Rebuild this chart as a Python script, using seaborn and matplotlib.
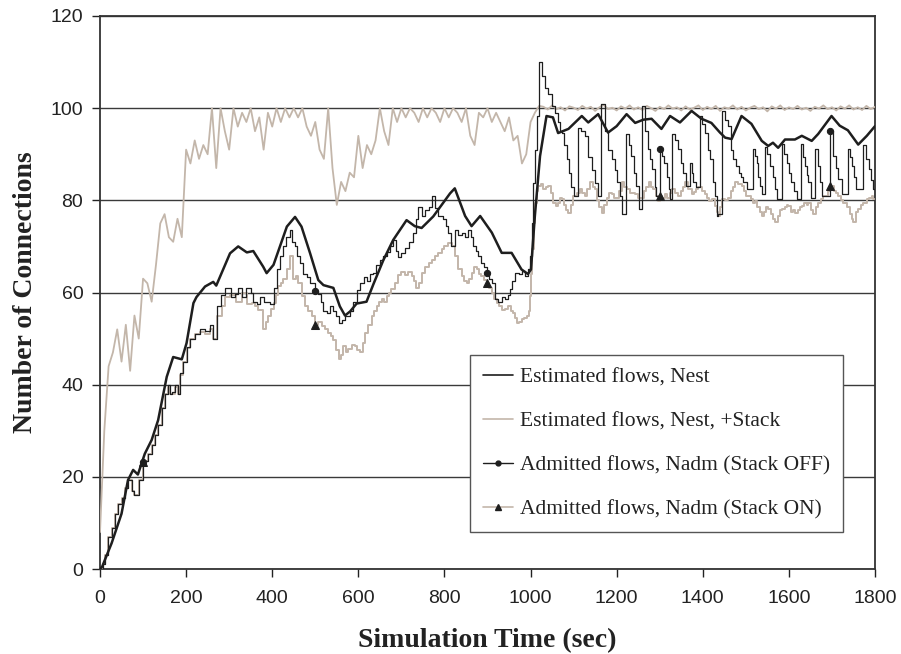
import numpy as np
import pandas as pd
import seaborn as sns
import matplotlib
matplotlib.use("Agg")
import matplotlib.pyplot as plt
from matplotlib.lines import Line2D

# ---------------- data ----------------
# Estimated flows, Nest (Stack OFF) - smooth black
nest_t = [0, 5, 27, 50, 65, 77, 88, 104, 120, 135, 155, 170, 190, 201, 217, 224, 244, 263, 270,
          302, 321, 341, 356, 379, 387, 403, 434, 453, 468, 488, 507, 519, 542, 557, 569, 581,
          596, 619, 635, 658, 681, 712, 731, 747, 774, 813, 824, 848, 863, 883, 910, 933, 956,
          979, 994, 1001, 1010, 1022, 1037, 1052, 1064, 1088, 1119, 1134, 1157, 1180, 1200,
          1223, 1243, 1262, 1281, 1304, 1324, 1347, 1374, 1397, 1420, 1440, 1452, 1467, 1490,
          1513, 1537, 1552, 1563, 1575, 1591, 1614, 1630, 1653, 1668, 1699, 1718, 1737, 1761,
          1781, 1800]
nest_v = [0, 0.5, 5.6, 12, 19.3, 21.5, 20.5, 25, 28, 32.3, 41.7, 46, 45.5, 49, 57.7, 59, 61.3,
          62.3, 61.5, 68.5, 70, 68.7, 69, 65.6, 64.2, 66, 74.3, 76.4, 74.3, 68.5, 62.7, 61.6, 61,
          57, 55, 55.9, 57.6, 58, 61.8, 67, 71.4, 75.7, 74.4, 74, 76.5, 81.5, 82.6, 76.6, 74.4,
          76.6, 73, 68.6, 68.6, 65, 64, 65, 76.6, 89.6, 98.3, 98, 94.6, 95.5, 98.3, 96.9, 98.7,
          94.7, 96.1, 98.7, 96.8, 97.5, 97.7, 95.5, 98.3, 96.9, 99.4, 97.7, 96.8, 94.7, 93.6,
          93.3, 98.3, 96.6, 92.9, 91.8, 92.5, 91.4, 93.2, 93.2, 94, 92.9, 94.4, 98.3, 96.2, 95.2,
          92.1, 94, 96.1]

# Estimated flows, Nest, +Stack - noisy grey, every 10 s
stack_t = list(range(0, 1801, 10))
stack_v = [8, 30, 44, 47, 52, 45, 53, 43, 55, 50, 63, 62, 58, 66, 75, 77, 72, 71, 76, 72,
           91, 88, 93, 89, 92, 90, 100, 87, 100, 95, 91, 100, 96, 99, 97, 100, 95, 98, 91, 99,
           96, 100, 97, 100, 98, 100, 98, 100, 96, 94, 97, 91, 89, 100, 87, 79, 84, 82, 86, 85,
           94, 87, 92, 90, 93, 100, 95, 92, 100, 97, 100, 98, 100, 99, 97, 100, 98, 100, 99, 97,
           100, 98, 100, 99, 97, 100, 94, 92, 99, 98, 100, 97, 99, 97, 95, 98, 93, 94, 88, 90,
           97, 99, 100.5, 100.3, 99.7, 100.6, 99.8, 100.2, 99.5, 100.4, 100.1, 99.6, 100.5, 99.9,
           100.3, 99.4, 100.2, 100.7, 99.8, 100.1, 99.5, 100.4, 99.9, 100.6, 99.7, 100.2, 99.6,
           100.5, 100.0, 99.4, 100.3, 99.8, 100.6, 99.9, 100.2, 99.5, 100.4, 99.7, 100.1, 100.6,
           99.6, 100.3, 99.8, 100.5, 99.4, 100.2, 99.9, 100.6, 99.7, 100.3, 99.5, 100.1, 100.5,
           99.8, 100.2, 99.3, 100.4, 99.9, 100.6, 99.6, 100.2, 99.8, 100.5, 99.7, 100.1, 99.4,
           100.3, 99.9, 100.6, 99.8, 100.2, 99.5, 100.4, 99.9, 100.6, 99.7, 100.2, 99.6, 100.5,
           99.8, 100.3]

# Admitted flows, Nadm (Stack OFF) - black steps
off_t = [0, 8, 12, 19, 27, 34, 42, 50, 58, 65, 74, 80, 88, 91, 100, 104, 112, 120, 128, 135,
         143, 151, 158, 162, 168, 174, 180, 186, 193, 201, 210, 221, 232, 244, 256, 263, 271,
         282, 290, 297, 305, 313, 320, 330, 340, 350, 356, 364, 372, 380, 387, 395, 403, 410,
         417, 425, 433, 441, 447, 453, 458, 464, 472, 480, 488, 495, 500, 507, 513, 519, 527,
         535, 542, 548, 554, 561, 570, 580, 588, 596, 604, 612, 620, 628, 635, 642, 650, 658,
         666, 673, 681, 688, 693, 700, 709, 718, 727, 733, 739, 747, 755, 763, 770, 778, 786,
         797, 803, 809, 816, 824, 832, 840, 848, 855, 862, 867, 873, 878, 886, 892, 898, 904,
         910, 917, 925, 933, 941, 948, 952, 958, 964, 972, 979, 987, 995, 999, 1003, 1006, 1010,
         1014, 1019, 1026, 1034, 1041, 1049, 1057, 1063, 1068, 1072, 1078, 1084, 1090, 1095,
         1100, 1108, 1111, 1118, 1126, 1134, 1142, 1150, 1157, 1164, 1172, 1180, 1188, 1195,
         1200, 1207, 1212, 1215, 1221, 1228, 1234, 1240, 1246, 1252, 1258, 1265, 1272, 1278,
         1283, 1288, 1291, 1300, 1305, 1310, 1316, 1321, 1325, 1329, 1336, 1343, 1349, 1355,
         1362, 1370, 1374, 1378, 1385, 1393, 1399, 1405, 1411, 1417, 1424, 1428, 1432, 1436,
         1445, 1452, 1459, 1465, 1471, 1477, 1483, 1489, 1494, 1502, 1508, 1516, 1521, 1525,
         1529, 1533, 1538, 1545, 1550, 1556, 1562, 1568, 1572, 1578, 1583, 1589, 1595, 1600,
         1606, 1612, 1618, 1623, 1628, 1633, 1637, 1641, 1645, 1651, 1656, 1661, 1668, 1672,
         1676, 1683, 1695, 1703, 1709, 1715, 1723, 1730, 1737, 1742, 1746, 1752, 1757, 1765,
         1773, 1779, 1785, 1790, 1796, 1800]
off_v = [0, 1, 3, 7, 9, 12, 14, 15.5, 17.5, 19.3, 17, 16, 16, 19.3, 23.3, 23.5, 25, 27, 29,
         31.3, 35, 38, 39.9, 38, 38.5, 40, 38, 42.5, 45, 48.2, 50, 51, 52, 51.6, 53, 50, 57,
         59.5, 61, 61, 59, 59.6, 61, 59, 61, 60, 58, 57.6, 59, 58, 58, 57.6, 61, 65, 68, 70, 72,
         73.6, 71, 70, 68, 66.3, 64, 63.4, 62, 62, 60.3, 59.6, 58, 56, 55.5, 57, 56, 55, 53.3,
         54, 55, 56, 58, 60.5, 62, 63.4, 62.5, 64, 64.2, 66, 67, 68, 68.7, 70, 71.4, 69, 67.8,
         68.5, 69.6, 71, 72.9, 76, 78.6, 76.6, 78, 78.6, 81, 78.4, 76.6, 75.9, 74.5, 73, 70,
         73.6, 72.5, 73, 72, 73.6, 72, 70, 69, 68, 66.5, 65.5, 64.3, 63, 62.1, 58.6, 58, 59,
         58.6, 59.5, 60.8, 62.5, 64.3, 64, 64.7, 63.5, 65, 68, 75, 83.8, 91, 98.3, 110, 107,
         104.4, 103, 100.5, 99, 97, 95, 94.7, 92, 89, 86, 83, 81, 81, 95.8, 95, 94, 89.5, 86.6,
         83.8, 81, 101, 95, 91, 89, 86.6, 84, 81, 77, 77, 94.3, 92, 89.6, 86, 83.1, 78.1, 100.5,
         95, 91.2, 89, 86.7, 83, 80.9, 91.2, 89.6, 88.2, 85, 82.4, 80.2, 94.3, 93, 91.2, 88, 86,
         83.1, 88.2, 86, 83.9, 82.8, 98.3, 96.5, 94.7, 91, 88.9, 83.9, 81, 76.6, 77, 99.4, 97.5,
         96.1, 91, 88.9, 87.5, 86, 85, 83.9, 82.4, 82.4, 91.2, 89.6, 88.2, 85, 83.1, 81.3, 91.6,
         90, 87.5, 85, 82.4, 80.2, 80.2, 92.3, 90, 88.2, 86, 83.9, 82, 80.2, 80.2, 92.3, 89.5,
         87.5, 85.5, 83.9, 80.6, 80.6, 91.2, 87.5, 84, 80.9, 80.9, 95.1, 89.6, 87, 84.6, 81.3,
         81.3, 91.2, 89.5, 87.5, 85, 82.4, 82.4, 91.9, 89, 86.7, 84.5, 82.4, 79.5]

# Admitted flows, Nadm (Stack ON) - grey steps
on_t = [0, 8, 12, 19, 27, 34, 42, 50, 58, 65, 74, 80, 88, 91, 100, 104, 112, 120, 128, 135,
        143, 151, 158, 162, 174, 180, 186, 193, 201, 210, 221, 232, 244, 256, 263, 271, 283,
        290, 302, 315, 330, 341, 352, 360, 368, 379, 385, 391, 397, 403, 408, 414, 420, 426,
        434, 441, 449, 455, 461, 468, 476, 484, 492, 500, 507, 515, 522, 530, 536, 542, 548,
        554, 560, 565, 571, 577, 585, 592, 598, 604, 610, 615, 623, 631, 637, 643, 648, 654,
        660, 666, 672, 677, 685, 693, 700, 708, 716, 724, 730, 735, 740, 747, 755, 763, 770,
        778, 786, 794, 800, 809, 817, 824, 832, 840, 846, 852, 858, 863, 869, 875, 880, 886,
        892, 898, 904, 910, 916, 921, 927, 933, 940, 948, 954, 960, 964, 968, 974, 979, 985,
        991, 996, 999, 1002, 1004, 1007, 1010, 1014, 1018, 1024, 1030, 1036, 1041, 1047, 1053,
        1058, 1064, 1068, 1072, 1078, 1083, 1088, 1093, 1099, 1107, 1115, 1120, 1126, 1132,
        1138, 1144, 1150, 1155, 1160, 1165, 1171, 1177, 1182, 1188, 1194, 1200, 1206, 1212,
        1218, 1223, 1230, 1236, 1243, 1250, 1258, 1264, 1269, 1274, 1280, 1285, 1291, 1297,
        1300, 1306, 1312, 1318, 1323, 1328, 1335, 1343, 1350, 1355, 1359, 1366, 1374, 1380,
        1385, 1390, 1398, 1405, 1410, 1415, 1421, 1428, 1432, 1436, 1440, 1444, 1452, 1459,
        1465, 1470, 1475, 1482, 1490, 1496, 1501, 1506, 1512, 1516, 1521, 1526, 1532, 1537,
        1543, 1547, 1552, 1558, 1563, 1568, 1574, 1579, 1583, 1590, 1595, 1599, 1605, 1610,
        1614, 1620, 1625, 1630, 1636, 1641, 1645, 1651, 1657, 1662, 1668, 1674, 1679, 1684,
        1690, 1695, 1705, 1710, 1715, 1720, 1725, 1730, 1736, 1741, 1746, 1750, 1755, 1761,
        1767, 1772, 1777, 1782, 1787, 1792, 1796, 1800]
on_v = [0, 1, 3, 7, 9, 12, 14, 15.5, 17.5, 19.3, 17, 16, 16, 19.3, 23.3, 23.5, 25, 27, 29,
        31.3, 35, 38, 39.5, 38, 39.5, 38, 42, 45, 48, 50, 51, 51.5, 51, 52, 50, 55, 57, 59,
        59.5, 58, 60, 57.6, 57.8, 57, 56.3, 52, 53.5, 54.9, 56.5, 57.8, 59.5, 61.4, 62, 62.9,
        65, 67.9, 62.9, 63.5, 62.1, 59.2, 57, 56, 54.9, 53, 53.5, 52.7, 52, 51.3, 50.5, 49.8,
        47.5, 45.5, 46.5, 48.4, 47, 47.7, 48.6, 48.4, 47.5, 47, 49, 51.3, 53, 54.9, 56, 57, 58,
        58.5, 58, 59.2, 60, 60.7, 62, 63.9, 64.5, 63.9, 64.5, 63.6, 62.5, 61, 62.1, 64.3, 65.5,
        66.5, 67, 67.9, 68.5, 69.4, 70, 70.8, 70.1, 67.9, 65, 63.6, 62.5, 62.1, 63, 64.3, 65.5,
        65, 64, 63.6, 62.8, 62.1, 61, 60, 58.5, 57.8, 57, 56.3, 56.5, 57, 56, 55.6, 54.5, 53.4,
        53.5, 54.2, 54.5, 54.9, 56, 59.2, 64, 69.4, 75, 79.5, 82, 83.1, 83.5, 82.4, 83, 83.1,
        81.5, 79.5, 78.8, 79.5, 80.5, 80.2, 79, 78, 77.3, 79, 80.9, 81.5, 82.4, 81.5, 80.9,
        82.5, 83.9, 83, 82.4, 80, 78.5, 77.3, 79, 80.6, 81.5, 81.3, 80.5, 80.6, 82, 83.9, 83,
        82.4, 81.5, 81.5, 81.3, 80.5, 80.6, 82, 83, 83.9, 83, 82.4, 81, 79.9, 80.9, 80.5, 81.3,
        80.5, 81.5, 82.4, 81.5, 80.9, 82, 83, 83.9, 82.5, 81.3, 81.8, 82.5, 82.8, 82, 81.3,
        80.5, 79.8, 80.2, 78.8, 77.5, 76.6, 78.5, 80.2, 80, 80.6, 82, 83, 83.9, 83.5, 83.1, 82,
        81, 80.9, 80.2, 79.5, 79.9, 78.5, 77.5, 76.6, 77.5, 78.5, 78.1, 77, 76, 75.2, 76.5, 78,
        78.1, 78.5, 79, 78.8, 77.5, 77.8, 77.3, 78, 78.5, 78.8, 79.5, 79, 79.5, 78, 77, 78.5,
        79.5, 80.2, 80.9, 80.9, 82, 83.1, 82, 81.5, 80.9, 80, 79.5, 79.5, 78.5, 77, 76, 75.2,
        77.5, 78.1, 79, 79.5, 79.5, 80.2, 80.5, 80.9, 80.2, 80.2]

mark_t = [100, 500, 898, 1300, 1695]

labels = ["Estimated flows, Nest", "Estimated flows, Nest, +Stack",
          "Admitted flows, Nadm (Stack OFF)", "Admitted flows, Nadm (Stack ON)"]
x_ticks = list(range(0, 1801, 200))
y_ticks = list(range(0, 121, 20))
x_label = "Simulation Time (sec)"
y_label = "Number of Connections"

# ---------------- style ----------------
sns.set_theme(style="white")
plt.rcParams["font.family"] = ["Liberation Sans", "DejaVu Sans"]

BLACK = "#1e1e1e"
GREY = "#c3b6aa"

fig = plt.figure(figsize=(9.01, 6.54), dpi=100)
ax = fig.add_axes([100 / 901, 1 - 569 / 654, 775 / 901, 553 / 654])

df_stack = pd.DataFrame({"t": stack_t, "v": stack_v})
df_on = pd.DataFrame({"t": on_t, "v": on_v})
df_off = pd.DataFrame({"t": off_t, "v": off_v})
df_nest = pd.DataFrame({"t": nest_t, "v": nest_v})

on_marks = [int(np.searchsorted(on_t, m)) for m in mark_t]
off_marks = [int(np.searchsorted(off_t, m)) for m in mark_t]

sns.lineplot(data=df_stack, x="t", y="v", ax=ax, color=GREY, lw=1.3,
             estimator=None, sort=False, zorder=3)
sns.lineplot(data=df_on, x="t", y="v", ax=ax, color=GREY, lw=1.4,
             estimator=None, sort=False, drawstyle="steps-post", zorder=4,
             marker="^", markevery=on_marks, markersize=5.5, markerfacecolor=BLACK,
             markeredgecolor=BLACK)
sns.lineplot(data=df_off, x="t", y="v", ax=ax, color=BLACK, lw=0.9,
             estimator=None, sort=False, drawstyle="steps-post", zorder=5,
             marker="o", markevery=off_marks, markersize=4.5, markerfacecolor=BLACK,
             markeredgecolor=BLACK)
sns.lineplot(data=df_nest, x="t", y="v", ax=ax, color=BLACK, lw=1.8,
             estimator=None, sort=False, zorder=6)

ax.set_xlim(0, 1800)
ax.set_ylim(0, 120)
ax.set_xticks(x_ticks)
ax.set_yticks(y_ticks)
ax.tick_params(axis="both", labelsize=14, colors="#222222", length=6, width=1,
               direction="out", pad=6)
ax.tick_params(axis="x", bottom=True, pad=9)
ax.tick_params(axis="y", left=True)
ax.yaxis.grid(True, color="#3a3a3a", lw=1.0)
ax.xaxis.grid(False)
ax.set_axisbelow(True)
for s in ax.spines.values():
    s.set_visible(True)
    s.set_color("#333333")
    s.set_linewidth(1.3)

ax.set_xlabel(x_label, fontsize=20, fontweight="bold",
              family=["Liberation Serif", "DejaVu Serif"], color="#222222", labelpad=15)
ax.set_ylabel(y_label, fontsize=20, fontweight="bold",
              family=["Liberation Serif", "DejaVu Serif"], color="#222222", labelpad=9)

handles = [
    Line2D([], [], color=BLACK, lw=1.2),
    Line2D([], [], color=GREY, lw=1.2),
    Line2D([], [], color=BLACK, lw=1.0, marker="o", markersize=3.5),
    Line2D([], [], color=GREY, lw=1.2, marker="^", markersize=4.5,
           markerfacecolor=BLACK, markeredgecolor=BLACK),
]
leg = ax.legend(handles, labels, loc="upper left", bbox_to_anchor=(0.477, 0.387),
                borderaxespad=0, frameon=True, fancybox=False, framealpha=1,
                edgecolor="#555555", handlelength=1.4, handletextpad=0.35,
                labelspacing=1.1, borderpad=0.6,
                prop={"family": ["Liberation Serif", "DejaVu Serif"], "size": 15.5})
leg.get_frame().set_linewidth(1.0)
for t in leg.get_texts():
    t.set_color("#222222")

fig.savefig("out.png", dpi=100)
